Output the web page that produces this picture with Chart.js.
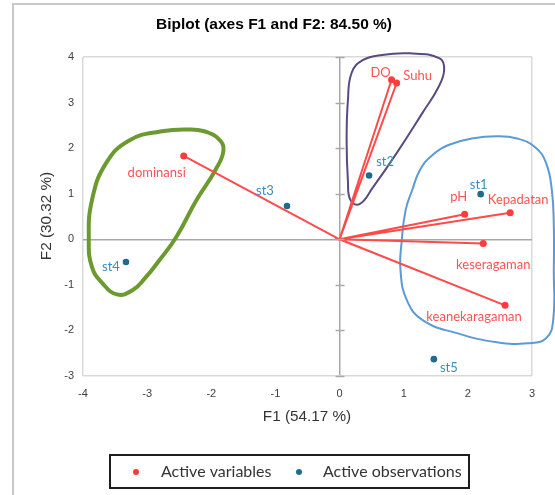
<!DOCTYPE html>
<html>
<head>
<meta charset="utf-8">
<script src="https://cdn.jsdelivr.net/npm/chart.js@4.4.1/dist/chart.umd.min.js"></script>
<style>
  html, body { margin: 0; padding: 0; background: #fff; }
  #wrap { width: 555px; height: 495px; }
</style>
</head>
<body>
<div id="wrap"><canvas id="biplot" width="555" height="495"></canvas></div>
<script>
// active variables (F1, F2 coordinates)
const varNames = ['DO', 'Suhu', 'pH', 'Kepadatan', 'keseragaman', 'keanekaragaman', 'dominansi']
const varF1 = [0.81, 0.89, 1.95, 2.66, 2.24, 2.58, -2.43]
const varF2 = [3.50, 3.43, 0.55, 0.58, -0.09, -1.45, 1.83]

// active observations
const obsNames = ['st1', 'st2', 'st3', 'st4', 'st5']
const obsF1 = [2.20, 0.46, -0.82, -3.33, 1.47]
const obsF2 = [0.99, 1.40, 0.73, -0.50, -2.63]

const xTicks = [-4, -3, -2, -1, 0, 1, 2, 3]
const yTicks = [-3, -2, -1, 0, 1, 2, 3, 4]

// hand drawn groupings round the stations
const greenF1 = [-2.77, -2.34, -2.11, -1.89, -1.81, -1.94, -2.23, -2.55, -2.81, -3.02, -3.23, -3.47, -3.70, -3.86, -3.91, -3.86, -3.64, -3.28]
const greenF2 = [2.37, 2.41, 2.37, 2.21, 1.95, 1.51, 0.86, 0.04, -0.46, -0.83, -1.12, -1.21, -0.96, -0.61, -0.02, 0.86, 1.67, 2.17]
const purpleF1 = [0.36, 0.63, 1.09, 1.56, 1.63, 1.53, 1.30, 0.89, 0.52, 0.31, 0.17, 0.13, 0.11, 0.13, 0.19]
const purpleF2 = [3.93, 4.04, 4.08, 3.97, 3.71, 3.31, 2.79, 1.89, 1.14, 0.77, 0.86, 1.29, 2.17, 3.05, 3.66]
const blueF1 = [2.06, 2.45, 2.77, 3.05, 3.22, 3.31, 3.34, 3.34, 3.33, 3.22, 2.94, 2.45, 1.83, 1.30, 1.05, 0.95, 0.97, 1.03, 1.13, 1.25, 1.44, 1.72]
const blueF2 = [2.21, 2.26, 2.21, 2.02, 1.67, 1.07, 0.31, -0.68, -1.78, -2.17, -2.28, -2.26, -2.06, -1.78, -1.34, -0.68, -0.02, 0.64, 1.07, 1.51, 1.84, 2.08]

const RED = '#ff3b3b'
const BLUE = '#1f6b8e'
const LABEL_FONT = 'Lato, "Open Sans", sans-serif'
const AXIS_FONT = '"Liberation Sans", Arial, sans-serif'

// label offsets in pixels from each point (center of text)
const varLabelOffsets = [[-11, -7], [21, -7], [-6, -17], [8, -13], [10, 21], [-31, 11], [-27, 17]]
const obsLabelOffsets = [[-2, -9], [16, -14], [-22, -15], [-15, 5], [15, 9]]

const toPoints = (xs, ys) => xs.map((x, i) => ({ x: x, y: ys[i] }))

// closed smooth loop: pad with neighbours so the spline wraps, hide the padding segments
const loopDataset = (xs, ys, color, width) => {
  const pts = toPoints(xs, ys)
  const n = pts.length
  const data = [pts[n - 1]].concat(pts, [pts[0], pts[1]])
  return {
    type: 'line',
    data: data,
    tension: 0.45,
    capBezierPoints: false,
    borderColor: color,
    borderWidth: width,
    borderCapStyle: 'round',
    borderJoinStyle: 'round',
    pointRadius: 0,
    pointHoverRadius: 0,
    fill: false,
    clip: false,
    order: 3,
    segment: {
      borderColor: ctx => (ctx.p0DataIndex === 0 || ctx.p1DataIndex === data.length - 1) ? 'rgba(0,0,0,0)' : undefined
    }
  }
}

const vectorData = []
for (let i = 0; i < varNames.length; i++) {
  vectorData.push({ x: 0, y: 0 })
  vectorData.push({ x: varF1[i], y: varF2[i] })
}

const gridColor = (ctx, lo, hi) => {
  const v = ctx.tick.value
  if (v === 0) return '#a8a8a8'
  if (v === lo || v === hi) return '#d9d9d9'
  return 'rgba(0,0,0,0)'
}

const decorations = {
  id: 'decorations',
  beforeDraw (chart) {
    const ctx = chart.ctx
    ctx.save()
    ctx.strokeStyle = '#c9c9c9'
    ctx.lineWidth = 2
    ctx.beginPath()
    ctx.moveTo(13, 495)
    ctx.lineTo(13, 4)
    ctx.lineTo(555, 4)
    ctx.stroke()
    ctx.restore()
  },
  afterDatasetsDraw (chart) {
    const ctx = chart.ctx
    const xs = chart.scales.x
    const ys = chart.scales.y
    const x0 = xs.getPixelForValue(0)
    ctx.save()
    // ticks on the vertical zero axis
    ctx.strokeStyle = '#a8a8a8'
    ctx.lineWidth = 1.5
    yTicks.forEach(v => {
      const py = Math.round(ys.getPixelForValue(v)) + 0.5
      ctx.beginPath()
      ctx.moveTo(x0 - 4, py)
      ctx.lineTo(x0 + 5, py)
      ctx.stroke()
    })
    // point labels
    ctx.font = '13px ' + LABEL_FONT
    ctx.textAlign = 'center'
    ctx.textBaseline = 'middle'
    const varMeta = chart.getDatasetMeta(1)
    ctx.fillStyle = '#ff5252'
    varMeta.data.forEach((pt, i) => {
      ctx.fillText(varNames[i], pt.x + varLabelOffsets[i][0], pt.y + varLabelOffsets[i][1])
    })
    const obsMeta = chart.getDatasetMeta(2)
    ctx.fillStyle = '#3a8dbd'
    obsMeta.data.forEach((pt, i) => {
      ctx.fillText(obsNames[i], pt.x + obsLabelOffsets[i][0], pt.y + obsLabelOffsets[i][1])
    })
    ctx.restore()
  },
  afterDraw (chart) {
    const ctx = chart.ctx
    ctx.save()
    ctx.fillStyle = '#000'
    ctx.textAlign = 'center'
    ctx.textBaseline = 'middle'
    ctx.font = 'bold 15.5px ' + AXIS_FONT
    ctx.fillText('Biplot (axes F1 and F2: 84.50 %)', 274, 25)
    ctx.fillStyle = '#333'
    ctx.font = '15.3px ' + AXIS_FONT
    ctx.fillText('F1 (54.17 %)', 307, 417)
    ctx.translate(47, 216)
    ctx.rotate(-Math.PI / 2)
    ctx.fillText('F2 (30.32 %)', 0, 0)
    ctx.restore()

    // legend box
    ctx.save()
    ctx.strokeStyle = '#1e1e1e'
    ctx.lineWidth = 2
    ctx.strokeRect(110, 455, 359, 33)
    ctx.fillStyle = RED
    ctx.beginPath()
    ctx.arc(136, 472, 3, 0, Math.PI * 2)
    ctx.fill()
    ctx.fillStyle = BLUE
    ctx.beginPath()
    ctx.arc(299, 472, 3, 0, Math.PI * 2)
    ctx.fill()
    ctx.fillStyle = '#333'
    ctx.font = '16px ' + LABEL_FONT
    ctx.textAlign = 'left'
    ctx.textBaseline = 'middle'
    ctx.fillText('Active variables', 161, 472)
    ctx.fillText('Active observations', 323, 472)
    ctx.restore()
  }
}

new Chart(document.getElementById('biplot'), {
  type: 'scatter',
  data: {
    datasets: [
      {
        label: 'vectors',
        data: vectorData,
        showLine: true,
        borderColor: '#ff4a4a',
        borderWidth: 2,
        pointRadius: 0,
        pointHoverRadius: 0,
        order: 2
      },
      {
        label: 'Active variables',
        data: toPoints(varF1, varF2),
        backgroundColor: RED,
        borderColor: RED,
        pointRadius: 3.5,
        borderWidth: 0,
        order: 0
      },
      {
        label: 'Active observations',
        data: toPoints(obsF1, obsF2),
        backgroundColor: BLUE,
        borderColor: BLUE,
        pointRadius: 3.3,
        borderWidth: 0,
        order: 0
      },
      loopDataset(greenF1, greenF2, '#6c9a30', 4),
      loopDataset(purpleF1, purpleF2, '#5a4a80', 2),
      loopDataset(blueF1, blueF2, '#5b9bd5', 2)
    ]
  },
  options: {
    responsive: false,
    animation: false,
    events: [],
    layout: { padding: { left: 0, right: 23, top: 57, bottom: 0 } },
    plugins: {
      legend: { display: false },
      title: { display: false },
      tooltip: { enabled: false }
    },
    scales: {
      x: {
        type: 'linear',
        min: -4,
        max: 3,
        afterBuildTicks: s => { s.ticks = xTicks.map(v => ({ value: v })) },
        afterFit: s => { s.height = 119 },
        ticks: { font: { family: AXIS_FONT, size: 11 }, color: '#404040', padding: 11 },
        grid: {
          drawTicks: false,
          color: ctx => gridColor(ctx, -4, 3),
          lineWidth: 1.5
        },
        border: { display: false }
      },
      y: {
        type: 'linear',
        min: -3,
        max: 4,
        afterBuildTicks: s => { s.ticks = yTicks.map(v => ({ value: v })) },
        afterFit: s => { s.width = 83 },
        ticks: { font: { family: AXIS_FONT, size: 11 }, color: '#404040', padding: 9 },
        grid: {
          drawTicks: false,
          color: ctx => gridColor(ctx, -3, 4),
          lineWidth: 1.5
        },
        border: { display: false }
      }
    }
  },
  plugins: [decorations]
})
</script>
</body>
</html>
